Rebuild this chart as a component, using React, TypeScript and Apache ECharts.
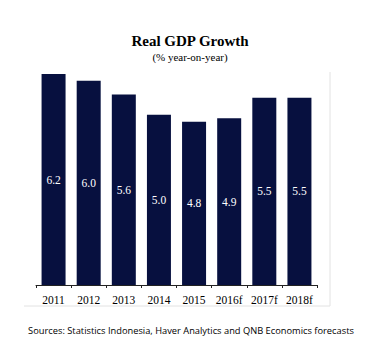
import React, { useEffect, useRef } from "react";
import * as echarts from "echarts";

const categories = ["2011", "2012", "2013", "2014", "2015", "2016f", "2017f", "2018f"];
const growth = [6.2, 6.0, 5.6, 5.0, 4.8, 4.9, 5.5, 5.5];
const titleText = "Real GDP Growth";
const subtitleText = "(% year-on-year)";
const sourceText = "Sources: Statistics Indonesia, Haver Analytics and QNB Economics forecasts";

const SERIF = "Liberation Serif";

export default function App() {
  const ref = useRef<HTMLDivElement>(null);
  useEffect(() => {
    if (!ref.current) return;
    const chart = echarts.init(ref.current, undefined, { renderer: "svg" });
    chart.setOption({
      animation: false,
      backgroundColor: "#ffffff",
      textStyle: { fontFamily: SERIF },
      title: {
        text: titleText,
        subtext: subtitleText,
        left: "center",
        top: 28,
        itemGap: 3,
        textStyle: { fontFamily: SERIF, fontWeight: "bold", fontSize: 15, color: "#000" },
        subtextStyle: { fontFamily: SERIF, fontSize: 11, color: "#000" },
      },
      grid: { left: 36, right: 63, top: 74, bottom: 73, containLabel: false },
      xAxis: {
        type: "category",
        data: categories,
        axisLine: { lineStyle: { color: "#222", width: 1 } },
        axisTick: { show: true, length: 3, inside: false, lineStyle: { color: "#222" } },
        axisLabel: { fontFamily: SERIF, fontSize: 11.5, color: "#000", margin: 9 },
      },
      yAxis: { type: "value", min: 0, max: 6.2, show: false, splitLine: { show: false } },
      series: [
        {
          type: "bar",
          data: growth,
          barWidth: 24,
          itemStyle: { color: "#07103f" },
          label: {
            show: true,
            position: "inside",
            color: "#ffffff",
            fontFamily: SERIF,
            fontSize: 11.5,
            formatter: (p: any) => Number(p.value).toFixed(1),
          },
        },
      ],
      graphic: [
        { type: "line", shape: { x1: 330, y1: 72, x2: 330, y2: 306 }, style: { stroke: "#e2e2e2", lineWidth: 1 } },
        { type: "line", shape: { x1: 24, y1: 306, x2: 330, y2: 306 }, style: { stroke: "#e2e2e2", lineWidth: 1 } },
        {
          type: "text",
          x: 191,
          y: 330,
          style: {
            text: sourceText,
            fontFamily: "Open Sans",
            fontSize: 9.3,
            fill: "#000",
            align: "center",
            verticalAlign: "middle",
          },
        },
      ],
    });
    return () => chart.dispose();
  }, []);
  return <div ref={ref} style={{ position: "fixed", left: 0, top: 0, width: 380, height: 358 }} />;
}
